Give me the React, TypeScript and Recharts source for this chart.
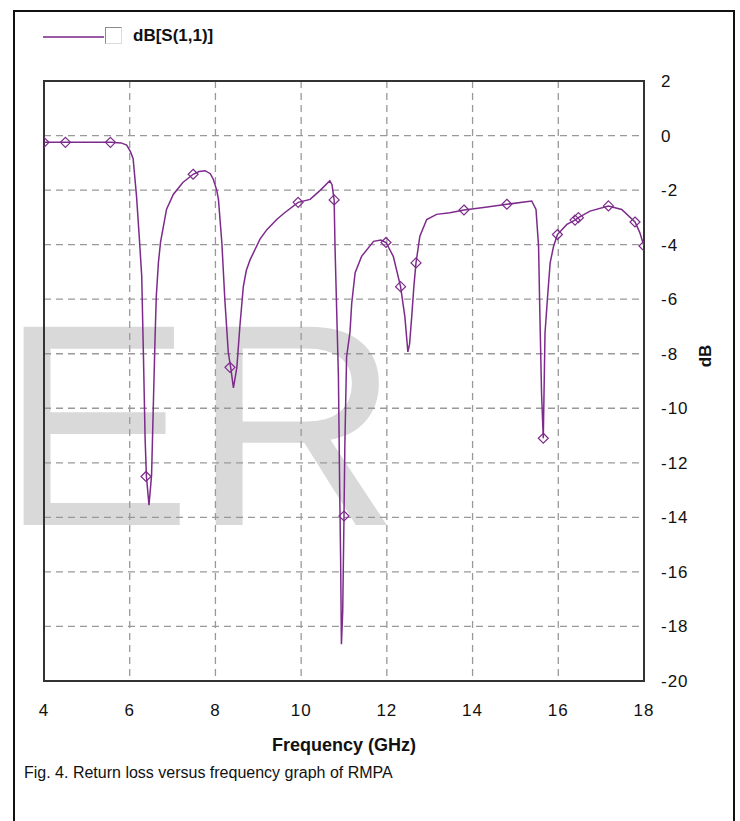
import React from 'react';
import {
  CartesianGrid,
  ComposedChart,
  Line,
  ReferenceArea,
  Scatter,
  XAxis,
  YAxis,
} from 'recharts';

// S11 trace, frequency in GHz and magnitude in dB
const freqGHz = [
  4.0, 4.5, 5.0, 5.55, 5.8, 5.93, 6.02, 6.08, 6.16, 6.22, 6.28, 6.32, 6.36, 6.39, 6.45,
  6.51, 6.55, 6.59, 6.62, 6.67, 6.72, 6.86, 7.02, 7.24, 7.48, 7.62, 7.76, 7.88, 7.95, 8.03,
  8.07, 8.15, 8.22, 8.3, 8.36, 8.42, 8.5, 8.57, 8.65, 8.72, 8.81, 9.04, 9.2, 9.43, 9.6,
  9.93, 10.21, 10.45, 10.67, 10.72, 10.77, 10.79, 10.84, 10.87, 10.9, 10.92, 10.94, 10.97, 11.0, 11.02,
  11.06, 11.14, 11.18, 11.26, 11.41, 11.69, 11.86, 11.98, 12.15, 12.32, 12.42, 12.49, 12.53, 12.58, 12.63,
  12.68, 12.77, 12.93, 13.16, 13.47, 13.8, 14.3, 14.8, 15.38, 15.48, 15.54, 15.57, 15.61, 15.65, 15.69,
  15.75, 15.81, 15.89, 15.98, 16.2, 16.39, 16.47, 16.74, 17.17, 17.48, 17.79, 17.9, 18.0,
];
const s11Db = [
  -0.25, -0.25, -0.25, -0.25, -0.27, -0.35, -0.6, -0.85, -2.25, -3.65, -5.15, -8.05, -11.15, -12.5, -13.55,
  -12.45, -9.95, -7.5, -5.9, -4.65, -3.9, -2.7, -2.15, -1.72, -1.42, -1.32, -1.29, -1.4, -1.6, -2.0,
  -2.34, -3.93, -6.03, -7.95, -8.55, -9.25, -8.5, -7.0, -5.55, -4.95, -4.55, -3.8, -3.45, -3.08, -2.85,
  -2.45, -2.34, -2.0, -1.66, -1.8, -2.36, -4.05, -7.05, -8.85, -13.05, -15.35, -18.65, -17.45, -13.95, -11.35,
  -8.12, -7.2, -6.15, -5.03, -4.43, -3.88, -3.83, -3.92, -4.43, -5.54, -6.64, -7.93, -7.65, -6.64, -5.54,
  -4.67, -3.69, -3.08, -2.89, -2.83, -2.73, -2.63, -2.52, -2.4, -2.71, -4.06, -6.52, -9.47, -11.1, -7.25,
  -5.91, -4.67, -4.06, -3.63, -3.26, -3.1, -3.01, -2.77, -2.58, -2.71, -3.17, -3.55, -4.05,
];

// marker symbols placed along the trace
const markerFreq = [
  4.0, 4.5, 5.55, 6.38, 7.48, 8.34, 9.93, 10.77, 11.0, 11.98, 12.32,
  12.68, 13.8, 14.8, 15.65, 15.98, 16.39, 16.47, 17.17, 17.79, 18.0,
];
const markerDb = [
  -0.25, -0.25, -0.25, -12.5, -1.42, -8.5, -2.45, -2.36, -13.95, -3.92, -5.54,
  -4.67, -2.73, -2.52, -11.1, -3.63, -3.1, -3.01, -2.58, -3.17, -4.05,
];

const xTicks = [4, 6, 8, 10, 12, 14, 16, 18];
const yTicks = [-20, -18, -16, -14, -12, -10, -8, -6, -4, -2, 0, 2];

const curve = freqGHz.map((f, i) => ({ f, db: s11Db[i] }));
const markers = markerFreq.map((f, i) => ({ f, db: markerDb[i] }));

const TRACE = '#7d2b8b';
const FONT = '"Liberation Sans", Arial, sans-serif';

const Diamond = (props: any) => {
  const { cx, cy } = props;
  if (cx == null || cy == null) return null;
  const r = 5;
  return (
    <path
      d={`M${cx},${cy - r} L${cx + r},${cy} L${cx},${cy + r} L${cx - r},${cy} Z`}
      fill="none"
      stroke={TRACE}
      strokeWidth={1.2}
    />
  );
};

const tickStyle = { fontSize: 17, fill: '#111', fontFamily: FONT, letterSpacing: 1 };

export default function App() {
  return (
    <div
      style={{
        position: 'absolute',
        left: 0,
        top: 0,
        width: 740,
        height: 821,
        background: '#fff',
        overflow: 'hidden',
        fontFamily: FONT,
        color: '#111',
      }}
    >
      {/* faint watermark letters behind the plot */}
      <svg width={740} height={821} style={{ position: 'absolute', left: 0, top: 0 }}>
        <text x={0} y={525} fontSize={288} fontFamily={FONT} fill="#d9d9d9">
          ER
        </text>
      </svg>

      <div style={{ position: 'absolute', left: 0, top: 0 }}>
        <ComposedChart
          width={740}
          height={821}
          margin={{ top: 81, left: 44, right: 36, bottom: 84 }}
        >
          <CartesianGrid stroke="#999" strokeWidth={1.3} strokeDasharray="7 5" />
          <XAxis
            type="number"
            dataKey="f"
            domain={[4, 18]}
            ticks={xTicks}
            height={56}
            axisLine={false}
            tickLine={false}
            tickSize={0}
            tickMargin={23}
            tick={tickStyle}
            allowDataOverflow
          />
          <YAxis
            type="number"
            dataKey="db"
            orientation="right"
            domain={[-20, 2]}
            ticks={yTicks}
            width={60}
            axisLine={false}
            tickLine={false}
            tickSize={0}
            tickMargin={17}
            tick={tickStyle}
            allowDataOverflow
          />
          <ReferenceArea
            x1={4}
            x2={18}
            y1={-20}
            y2={2}
            fill="none"
            stroke="#333"
            strokeWidth={2}
            ifOverflow="visible"
          />
          <Line
            data={curve}
            dataKey="db"
            type="linear"
            stroke={TRACE}
            strokeWidth={1.5}
            dot={false}
            isAnimationActive={false}
          />
          <Scatter data={markers} dataKey="db" shape={Diamond} isAnimationActive={false} />
        </ComposedChart>
      </div>

      {/* outer figure frame */}
      <div
        style={{
          position: 'absolute',
          left: 13,
          top: 10,
          width: 722,
          height: 840,
          border: '2px solid #111',
          boxSizing: 'border-box',
        }}
      />

      {/* legend */}
      <div style={{ position: 'absolute', left: 43, top: 36, width: 61, height: 2, background: '#9b5aa6' }} />
      <div
        style={{
          position: 'absolute',
          left: 105,
          top: 27,
          width: 17,
          height: 17,
          boxSizing: 'border-box',
          borderStyle: 'solid',
          borderWidth: 1,
          borderColor: '#8a8a8a #dcdcdc #dcdcdc #8a8a8a',
          background: '#fff',
        }}
      />
      <div style={{ position: 'absolute', left: 133, top: 26, fontSize: 17, fontWeight: 'bold' }}>
        dB[S(1,1)]
      </div>

      {/* axis titles */}
      <div
        style={{
          position: 'absolute',
          left: 244,
          width: 200,
          top: 735,
          textAlign: 'center',
          fontSize: 18,
          fontWeight: 'bold',
        }}
      >
        Frequency (GHz)
      </div>
      <div
        style={{
          position: 'absolute',
          left: 686,
          top: 346,
          width: 40,
          textAlign: 'center',
          fontSize: 17,
          fontWeight: 'bold',
          transform: 'rotate(-90deg)',
        }}
      >
        dB
      </div>

      {/* caption */}
      <div style={{ position: 'absolute', left: 24, top: 764, fontSize: 16 }}>
        Fig. 4. Return loss versus frequency graph of RMPA
      </div>
    </div>
  );
}
